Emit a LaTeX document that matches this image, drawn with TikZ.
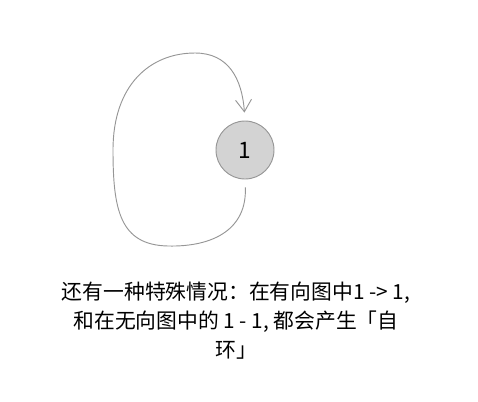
\documentclass[tikz,border=0pt]{standalone}
\usepackage{fontspec}
\newfontfamily\cjk{Noto Sans CJK SC}
\usetikzlibrary{arrows.meta,positioning}
\definecolor{nodefill}{RGB}{211,211,211}
\definecolor{nodeline}{RGB}{150,150,150}
\definecolor{edgeline}{RGB}{150,150,150}

\begin{document}
\begin{tikzpicture}[x=0.75pt,y=-0.75pt,
  thin,auto,
  >={Straight Barb[length=9pt,width=12pt]},
  edge/.style={->,draw=edgeline,line width=0.7pt},
  caption/.style={font=\cjk\fontsize{15.6}{21.75}\selectfont, align=center, inner sep=0pt}]
    \tikzstyle{vertex}=[circle, minimum size=43.5pt, inner sep=0pt, draw=nodeline, fill=nodefill, line width=0.7pt]

    \useasboundingbox (0,0) rectangle (478,401);

    \node[vertex]           (one) at (245,150) {\cjk\fontsize{17}{17}\selectfont 1};
    \node[caption]          (note) at (236,321)
      {还有一种特殊情况：在有向图中1 -> 1,\\
       和在无向图中的 1 - 1, 都会产生「自\\
       环」};

    \draw[edge, shorten <=6pt, shorten >=6pt] (one.south)
      .. controls (247,228) and (215,247) .. (168,246)
      .. controls (120,245) and (113,210) .. (113,150)
      .. controls (113,85) and (150,53) .. (195,53)
      .. controls (228,53) and (242,78) .. (one.north);

  \end{tikzpicture}
\end{document}
